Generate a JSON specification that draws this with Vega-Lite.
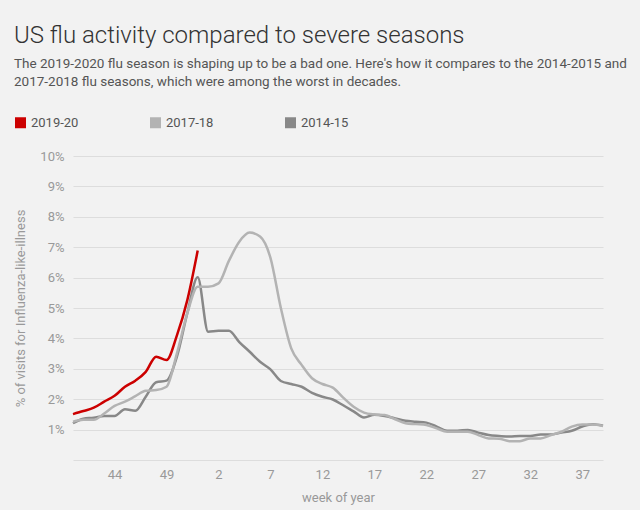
{
  "$schema": "https://vega.github.io/schema/vega-lite/v6.json",
  "autosize": "none",
  "width": 530,
  "height": 304,
  "padding": {"left": 73, "top": 156, "right": 37, "bottom": 50},
  "background": "#f2f2f2",
  "config": {
    "view": {"stroke": null},
    "font": "Roboto"
  },
  "title": {
    "text": "US flu activity compared to severe seasons",
    "subtitle": ["The 2019-2020 flu season is shaping up to be a bad one. Here's how it compares to the 2014-2015 and", "2017-2018 flu seasons, which were among the worst in decades."],
    "anchor": "start",
    "frame": "group",
    "dx": -59,
    "offset": 28,
    "font": "Roboto",
    "fontSize": 24,
    "fontWeight": 300,
    "color": "#333333",
    "subtitleFont": "Roboto",
    "subtitleFontSize": 13.5,
    "subtitleColor": "#555555",
    "subtitleLineHeight": 18,
    "subtitlePadding": 9
  },
  "data": {
    "values": [
      {"season": "2014-15", "i": 0, "pct": 1.21}, {"season": "2014-15", "i": 1, "pct": 1.36}, {"season": "2014-15", "i": 2, "pct": 1.39}, {"season": "2014-15", "i": 3, "pct": 1.45}, {"season": "2014-15", "i": 4, "pct": 1.45}, {"season": "2014-15", "i": 5, "pct": 1.67}, {"season": "2014-15", "i": 6, "pct": 1.62}, {"season": "2014-15", "i": 7, "pct": 2.08}, {"season": "2014-15", "i": 8, "pct": 2.56}, {"season": "2014-15", "i": 9, "pct": 2.61}, {"season": "2014-15", "i": 10, "pct": 3.40}, {"season": "2014-15", "i": 11, "pct": 4.83}, {"season": "2014-15", "i": 12, "pct": 6.01}, {"season": "2014-15", "i": 13, "pct": 4.22}, {"season": "2014-15", "i": 14, "pct": 4.25}, {"season": "2014-15", "i": 15, "pct": 4.25}, {"season": "2014-15", "i": 16, "pct": 3.88}, {"season": "2014-15", "i": 17, "pct": 3.56}, {"season": "2014-15", "i": 18, "pct": 3.23}, {"season": "2014-15", "i": 19, "pct": 2.98}, {"season": "2014-15", "i": 20, "pct": 2.60}, {"season": "2014-15", "i": 21, "pct": 2.50}, {"season": "2014-15", "i": 22, "pct": 2.41}, {"season": "2014-15", "i": 23, "pct": 2.21}, {"season": "2014-15", "i": 24, "pct": 2.08}, {"season": "2014-15", "i": 25, "pct": 1.99}, {"season": "2014-15", "i": 26, "pct": 1.80}, {"season": "2014-15", "i": 27, "pct": 1.60}, {"season": "2014-15", "i": 28, "pct": 1.40}, {"season": "2014-15", "i": 29, "pct": 1.49}, {"season": "2014-15", "i": 30, "pct": 1.45}, {"season": "2014-15", "i": 31, "pct": 1.37}, {"season": "2014-15", "i": 32, "pct": 1.29}, {"season": "2014-15", "i": 33, "pct": 1.26}, {"season": "2014-15", "i": 34, "pct": 1.23}, {"season": "2014-15", "i": 35, "pct": 1.10}, {"season": "2014-15", "i": 36, "pct": 0.96}, {"season": "2014-15", "i": 37, "pct": 0.96}, {"season": "2014-15", "i": 38, "pct": 0.99}, {"season": "2014-15", "i": 39, "pct": 0.90}, {"season": "2014-15", "i": 40, "pct": 0.82}, {"season": "2014-15", "i": 41, "pct": 0.79}, {"season": "2014-15", "i": 42, "pct": 0.77}, {"season": "2014-15", "i": 43, "pct": 0.79}, {"season": "2014-15", "i": 44, "pct": 0.79}, {"season": "2014-15", "i": 45, "pct": 0.84}, {"season": "2014-15", "i": 46, "pct": 0.84}, {"season": "2014-15", "i": 47, "pct": 0.90}, {"season": "2014-15", "i": 48, "pct": 0.96}, {"season": "2014-15", "i": 49, "pct": 1.10}, {"season": "2014-15", "i": 50, "pct": 1.18}, {"season": "2014-15", "i": 51, "pct": 1.13},
      {"season": "2017-18", "i": 0, "pct": 1.26}, {"season": "2017-18", "i": 1, "pct": 1.32}, {"season": "2017-18", "i": 2, "pct": 1.32}, {"season": "2017-18", "i": 3, "pct": 1.53}, {"season": "2017-18", "i": 4, "pct": 1.78}, {"season": "2017-18", "i": 5, "pct": 1.92}, {"season": "2017-18", "i": 6, "pct": 2.10}, {"season": "2017-18", "i": 7, "pct": 2.28}, {"season": "2017-18", "i": 8, "pct": 2.30}, {"season": "2017-18", "i": 9, "pct": 2.41}, {"season": "2017-18", "i": 10, "pct": 3.51}, {"season": "2017-18", "i": 11, "pct": 4.83}, {"season": "2017-18", "i": 12, "pct": 5.70}, {"season": "2017-18", "i": 13, "pct": 5.70}, {"season": "2017-18", "i": 14, "pct": 5.81}, {"season": "2017-18", "i": 15, "pct": 6.55}, {"season": "2017-18", "i": 16, "pct": 7.18}, {"season": "2017-18", "i": 17, "pct": 7.48}, {"season": "2017-18", "i": 18, "pct": 7.35}, {"season": "2017-18", "i": 19, "pct": 6.65}, {"season": "2017-18", "i": 20, "pct": 5.00}, {"season": "2017-18", "i": 21, "pct": 3.67}, {"season": "2017-18", "i": 22, "pct": 3.13}, {"season": "2017-18", "i": 23, "pct": 2.69}, {"season": "2017-18", "i": 24, "pct": 2.50}, {"season": "2017-18", "i": 25, "pct": 2.38}, {"season": "2017-18", "i": 26, "pct": 2.05}, {"season": "2017-18", "i": 27, "pct": 1.75}, {"season": "2017-18", "i": 28, "pct": 1.56}, {"season": "2017-18", "i": 29, "pct": 1.50}, {"season": "2017-18", "i": 30, "pct": 1.48}, {"season": "2017-18", "i": 31, "pct": 1.34}, {"season": "2017-18", "i": 32, "pct": 1.21}, {"season": "2017-18", "i": 33, "pct": 1.18}, {"season": "2017-18", "i": 34, "pct": 1.15}, {"season": "2017-18", "i": 35, "pct": 1.04}, {"season": "2017-18", "i": 36, "pct": 0.93}, {"season": "2017-18", "i": 37, "pct": 0.93}, {"season": "2017-18", "i": 38, "pct": 0.93}, {"season": "2017-18", "i": 39, "pct": 0.82}, {"season": "2017-18", "i": 40, "pct": 0.71}, {"season": "2017-18", "i": 41, "pct": 0.70}, {"season": "2017-18", "i": 42, "pct": 0.62}, {"season": "2017-18", "i": 43, "pct": 0.62}, {"season": "2017-18", "i": 44, "pct": 0.71}, {"season": "2017-18", "i": 45, "pct": 0.71}, {"season": "2017-18", "i": 46, "pct": 0.82}, {"season": "2017-18", "i": 47, "pct": 0.93}, {"season": "2017-18", "i": 48, "pct": 1.10}, {"season": "2017-18", "i": 49, "pct": 1.17}, {"season": "2017-18", "i": 50, "pct": 1.17}, {"season": "2017-18", "i": 51, "pct": 1.12},
      {"season": "2019-20", "i": 0, "pct": 1.51}, {"season": "2019-20", "i": 1, "pct": 1.61}, {"season": "2019-20", "i": 2, "pct": 1.72}, {"season": "2019-20", "i": 3, "pct": 1.92}, {"season": "2019-20", "i": 4, "pct": 2.11}, {"season": "2019-20", "i": 5, "pct": 2.41}, {"season": "2019-20", "i": 6, "pct": 2.61}, {"season": "2019-20", "i": 7, "pct": 2.90}, {"season": "2019-20", "i": 8, "pct": 3.40}, {"season": "2019-20", "i": 9, "pct": 3.29}, {"season": "2019-20", "i": 10, "pct": 4.10}, {"season": "2019-20", "i": 11, "pct": 5.26}, {"season": "2019-20", "i": 12, "pct": 6.89}
    ]
  },
  "mark": {"type": "line", "strokeWidth": 2.5, "interpolate": "monotone"},
  "encoding": {
    "x": {
      "field": "i",
      "type": "quantitative",
      "scale": {"domain": [0, 51], "nice": false, "zero": false},
      "axis": {
        "title": "week of year",
        "values": [4, 9, 14, 19, 24, 29, 34, 39, 44, 49],
        "labelExpr": "(datum.value + 39) % 52 + 1",
        "domain": false,
        "ticks": false,
        "grid": false,
        "labelPadding": 8,
        "labelFontSize": 13,
        "labelColor": "#999999",
        "labelFont": "Roboto",
        "titleFont": "Roboto",
        "titleFontSize": 13,
        "titleFontWeight": "normal",
        "titleColor": "#999999",
        "titlePadding": 10
      }
    },
    "y": {
      "field": "pct",
      "type": "quantitative",
      "scale": {"domain": [0, 10], "nice": false},
      "axis": {
        "title": "% of visits for Influenza-like-illness",
        "values": [0, 1, 2, 3, 4, 5, 6, 7, 8, 9, 10],
        "labelExpr": "datum.value == 0 ? '' : datum.value + '%'",
        "domain": false,
        "ticks": false,
        "grid": true,
        "gridColor": "#dddddd",
        "gridWidth": 1,
        "labelPadding": 9,
        "labelFontSize": 13,
        "labelColor": "#999999",
        "labelFont": "Roboto",
        "titleFont": "Roboto",
        "titleFontSize": 13,
        "titleFontWeight": "normal",
        "titleColor": "#999999",
        "titlePadding": 12
      }
    },
    "color": {
      "field": "season",
      "type": "nominal",
      "scale": {"domain": ["2019-20", "2017-18", "2014-15"], "range": ["#cc0000", "#b3b3b3", "#888888"]},
      "legend": {
        "title": null,
        "orient": "none",
        "legendX": -59,
        "legendY": -40,
        "direction": "horizontal",
        "columns": 3,
        "gridAlign": "all",
        "columnPadding": 70,
        "symbolType": "square",
        "symbolSize": 121,
        "symbolStrokeWidth": 0,
        "labelFont": "Roboto",
        "labelFontSize": 13,
        "labelColor": "#555555",
        "labelOffset": 4,
        "encode": {
          "symbols": {
            "update": {
              "fill": {"scale": "color", "field": "value"},
              "fillOpacity": {"value": 1},
              "strokeWidth": {"value": 0}
            }
          }
        }
      }
    }
  }
}
